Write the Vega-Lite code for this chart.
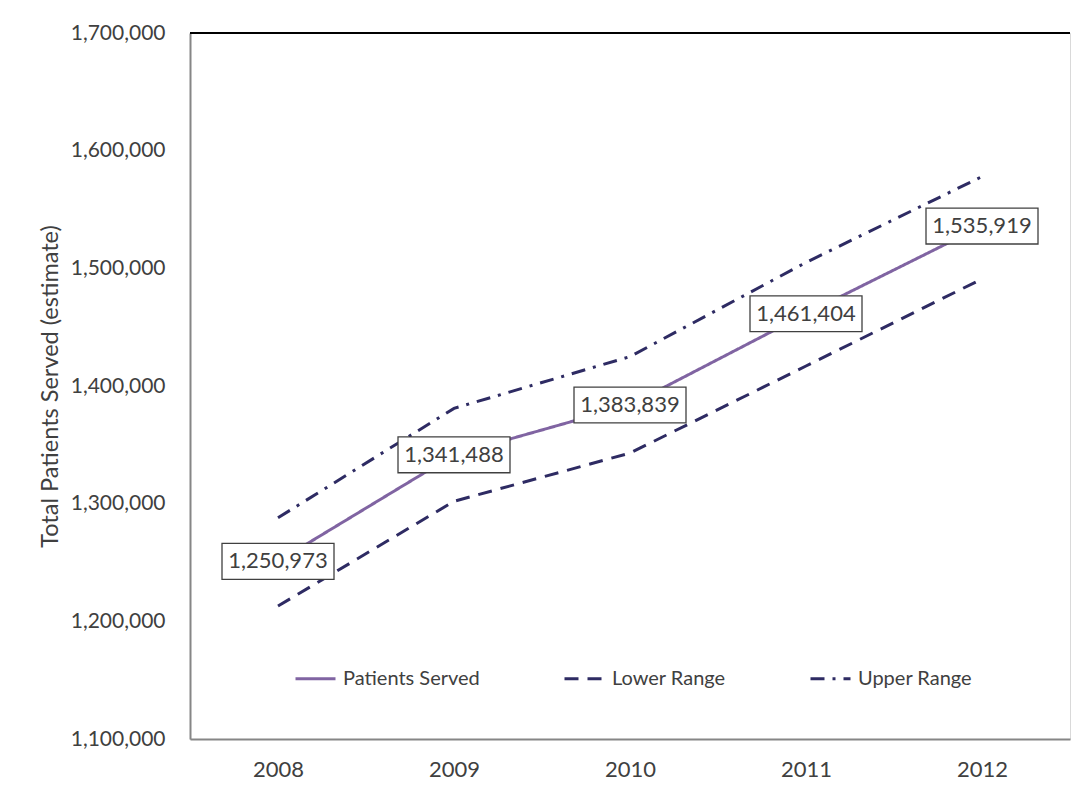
{
  "$schema": "https://vega.github.io/schema/vega-lite/v6.json",
  "width": 880,
  "height": 706,
  "autosize": "none",
  "padding": {"left": 190, "top": 33, "right": 1, "bottom": 51},
  "background": "white",
  "config": {
    "font": "Lato",
    "view": {"stroke": "#d9d9d9", "strokeWidth": 1}
  },
  "data": {
    "values": [
      {"year": "2008", "series": "Patients Served", "value": 1250973},
      {"year": "2009", "series": "Patients Served", "value": 1341488},
      {"year": "2010", "series": "Patients Served", "value": 1383839},
      {"year": "2011", "series": "Patients Served", "value": 1461404},
      {"year": "2012", "series": "Patients Served", "value": 1535919},
      {"year": "2008", "series": "Lower Range", "value": 1213000},
      {"year": "2009", "series": "Lower Range", "value": 1302000},
      {"year": "2010", "series": "Lower Range", "value": 1343000},
      {"year": "2011", "series": "Lower Range", "value": 1417000},
      {"year": "2012", "series": "Lower Range", "value": 1491000},
      {"year": "2008", "series": "Upper Range", "value": 1288000},
      {"year": "2009", "series": "Upper Range", "value": 1381000},
      {"year": "2010", "series": "Upper Range", "value": 1425000},
      {"year": "2011", "series": "Upper Range", "value": 1505000},
      {"year": "2012", "series": "Upper Range", "value": 1578000}
    ]
  },
  "encoding": {
    "x": {
      "field": "year",
      "type": "ordinal",
      "scale": {"type": "point", "padding": 0.5},
      "axis": {
        "title": null,
        "labelAngle": 0,
        "labelFontSize": 22,
        "labelColor": "#404040",
        "labelPadding": 20,
        "ticks": false,
        "domainColor": "#868686",
        "domainWidth": 2
      }
    },
    "y": {
      "field": "value",
      "type": "quantitative",
      "scale": {"domain": [1100000, 1700000], "nice": false, "zero": false},
      "axis": {
        "title": "Total Patients Served (estimate)",
        "titleFontSize": 23.5,
        "titleFontWeight": "normal",
        "titleColor": "#404040",
        "titlePadding": 8,
        "values": [1100000, 1200000, 1300000, 1400000, 1500000, 1600000, 1700000],
        "labelExpr": "format(datum.value, ',')",
        "labelFontSize": 21,
        "labelColor": "#404040",
        "labelPadding": 25,
        "ticks": false,
        "grid": false,
        "domainColor": "#868686",
        "domainWidth": 2
      }
    }
  },
  "layer": [
    {
      "mark": {"type": "line", "strokeWidth": 3},
      "encoding": {
        "color": {
          "field": "series",
          "type": "nominal",
          "scale": {
            "domain": ["Patients Served", "Lower Range", "Upper Range"],
            "range": ["#8064a2", "#2e2b63", "#2e2b63"]
          },
          "legend": {
            "title": null,
            "orient": "none",
            "legendX": 104,
            "legendY": 624,
            "direction": "horizontal",
            "symbolType": "stroke",
            "symbolSize": 1600,
            "symbolStrokeWidth": 3,
            "columnPadding": 78,
            "labelFontSize": 20,
            "labelColor": "#404040",
            "labelOffset": 6
          }
        },
        "strokeDash": {
          "field": "series",
          "type": "nominal",
          "scale": {
            "domain": ["Patients Served", "Lower Range", "Upper Range"],
            "range": [[1, 0], [14, 9], [14, 8, 3, 8]]
          },
          "legend": null
        }
      }
    },
    {
      "mark": {"type": "rule", "color": "#000000", "strokeWidth": 2},
      "encoding": {"y": {"datum": 1700000}, "x": null}
    },
    {
      "transform": [{"filter": "datum.series === 'Patients Served'"}],
      "mark": {
        "type": "point",
        "shape": "M-1,-0.32L1,-0.32L1,0.32L-1,0.32Z",
        "size": 12544,
        "filled": true,
        "fill": "white",
        "stroke": "#404040",
        "strokeWidth": 1.3,
        "opacity": 1
      }
    },
    {
      "transform": [{"filter": "datum.series === 'Patients Served'"}],
      "mark": {"type": "text", "fontSize": 22, "color": "#404040", "baseline": "middle", "align": "center"},
      "encoding": {"text": {"field": "value", "type": "quantitative", "format": ","}}
    }
  ]
}
